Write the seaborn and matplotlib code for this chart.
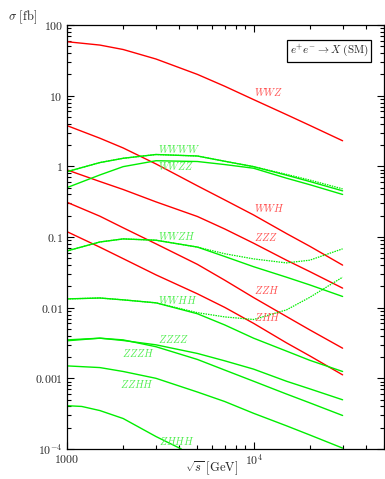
import matplotlib
matplotlib.use("Agg")
import matplotlib.pyplot as plt
import matplotlib.ticker as mticker
import seaborn as sns

# sqrt(s) in GeV, common grid for most curves
energy = [1000, 1500, 2000, 3000, 5000, 7000, 10000, 15000, 20000, 30000]

# red: triple boson production
WWZ = [58, 52, 45, 33, 20, 13.6, 8.8, 5.4, 3.8, 2.3]
WWH = [3.77, 2.5, 1.82, 1.08, 0.53, 0.335, 0.205, 0.112, 0.074, 0.040]
ZZZ = [0.89, 0.61, 0.47, 0.314, 0.195, 0.130, 0.0817, 0.047, 0.0324, 0.0189]
ZZH = [0.31, 0.197, 0.135, 0.080, 0.041, 0.0245, 0.0139, 0.0075, 0.00485, 0.00267]
ZHH = [0.119, 0.0718, 0.0494, 0.0291, 0.0157, 0.0101, 0.0060, 0.00318, 0.00208, 0.00112]

# green: four boson production (solid) and dotted variants
WWWW = [0.84, 1.13, 1.30, 1.47, 1.40, 1.18, 0.99, 0.75, 0.61, 0.45]
WWWW_dot = [0.84, 1.13, 1.30, 1.47, 1.40, 1.18, 0.99, 0.77, 0.64, 0.48]
WWZZ = [0.50, 0.755, 0.99, 1.20, 1.17, 1.06, 0.94, 0.68, 0.55, 0.40]
WWZH = [0.0635, 0.085, 0.094, 0.090, 0.072, 0.053, 0.038, 0.027, 0.021, 0.0144]
WWZH_dot = [0.0635, 0.085, 0.094, 0.090, 0.072, 0.058, 0.049, 0.043, 0.047, 0.068]
WWHH = [0.0133, 0.0137, 0.0129, 0.0117, 0.0082, 0.0057, 0.0037, 0.00243, 0.0018, 0.00125]
WWHH_dot = [0.0133, 0.0137, 0.0129, 0.0117, 0.0085, 0.0074, 0.0068, 0.0093, 0.0140, 0.027]
ZZZZ = [0.0035, 0.0037, 0.00343, 0.00298, 0.00225, 0.00177, 0.00135, 0.00091, 0.00071, 0.000497]
ZZZH = [0.0034, 0.0037, 0.0035, 0.0028, 0.00185, 0.00131, 0.00091, 0.0006, 0.00045, 0.000298]
ZZHH = [0.0015, 0.00142, 0.00125, 0.00100, 0.00064, 0.00047, 0.00032, 0.000213, 0.000158, 0.000103]

energy_zhhh = [1000, 1200, 1500, 2000, 3000, 4100]
ZHHH = [0.00041, 0.00040, 0.00035, 0.00027, 0.00015, 0.0001]

# curve labels: text, x, y
red_labels = [("WWZ", 10100, 11.1), ("WWH", 10100, 0.258), ("ZZZ", 10100, 0.100),
              ("ZZH", 10100, 0.0176), ("ZHH", 10100, 0.0073)]
green_labels = [("WWWW", 3070, 1.76), ("WWZZ", 3070, 1.01), ("WWZH", 3070, 0.102),
                ("WWHH", 3070, 0.0129), ("ZZZZ", 3070, 0.00362), ("ZZZH", 1968, 0.00226),
                ("ZZHH", 1920, 0.000836), ("ZHHH", 3100, 0.000131)]

yticks = [1e-4, 1e-3, 1e-2, 1e-1, 1, 10, 100]
ytick_labels = [r"$10^{-4}$", r"$\mathrm{0.001}$", r"$\mathrm{0.01}$", r"$\mathrm{0.1}$",
                r"$\mathrm{1}$", r"$\mathrm{10}$", r"$\mathrm{100}$"]
xticks = [1000, 10000]
xtick_labels = [r"$\mathrm{1000}$", r"$10^{4}$"]

sns.set_style("ticks", {"xtick.direction": "in", "ytick.direction": "in"})
plt.rcParams["mathtext.fontset"] = "cm"
plt.rcParams["font.family"] = ["DejaVu Serif"]

RED = "#ff0000"
GREEN = "#00ee00"

fig = plt.figure(figsize=(3.85, 4.79), dpi=100)
ax = fig.add_axes([67 / 385, 1 - 449 / 479, 317 / 385, 424 / 479])

for ys in [WWZ, WWH, ZZZ, ZZH, ZHH]:
    sns.lineplot(x=energy, y=ys, ax=ax, color=RED, lw=1.0, estimator=None, sort=False)
for ys in [WWWW, WWZZ, WWZH, WWHH, ZZZZ, ZZZH, ZZHH]:
    sns.lineplot(x=energy, y=ys, ax=ax, color=GREEN, lw=1.0, estimator=None, sort=False)
for ys in [WWWW_dot, WWZH_dot, WWHH_dot]:
    sns.lineplot(x=energy, y=ys, ax=ax, color=GREEN, lw=0.9, ls=(0, (1.2, 0.8)),
                 estimator=None, sort=False)
sns.lineplot(x=energy_zhhh, y=ZHHH, ax=ax, color=GREEN, lw=1.0, estimator=None, sort=False)

ax.set_xscale("log")
ax.set_yscale("log")
ax.set_xlim(1000, 50000)
ax.set_ylim(1e-4, 100)

ax.yaxis.set_major_locator(mticker.FixedLocator(yticks))
ax.yaxis.set_major_formatter(mticker.FixedFormatter(ytick_labels))
ax.xaxis.set_major_locator(mticker.FixedLocator(xticks))
ax.xaxis.set_major_formatter(mticker.FixedFormatter(xtick_labels))
ax.xaxis.set_minor_locator(mticker.LogLocator(base=10, subs=range(2, 10)))
ax.yaxis.set_minor_locator(mticker.LogLocator(base=10, subs=range(2, 10)))
ax.xaxis.set_minor_formatter(mticker.NullFormatter())
ax.yaxis.set_minor_formatter(mticker.NullFormatter())
ax.tick_params(which="both", top=True, right=True, direction="in", width=0.8,
               color="black", labelsize=8.5)
ax.tick_params(axis="y", pad=3)
ax.tick_params(axis="x", pad=3)
ax.tick_params(which="major", length=5)
ax.tick_params(which="minor", length=3)
for sp in ax.spines.values():
    sp.set_linewidth(0.9)
    sp.set_color("black")

for txt, x, y in red_labels:
    ax.text(x, y, "$" + txt + "$", color="#ff5050", fontsize=7.5, va="center", ha="left")
for txt, x, y in green_labels:
    ax.text(x, y, "$" + txt + "$", color="#50ee50", fontsize=7.5, va="center", ha="left")

ax.text(0.95, 0.939, r"$e^{+}e^{-}\rightarrow X\ (\mathrm{SM})$", transform=ax.transAxes,
        ha="right", va="center", fontsize=8,
        bbox=dict(boxstyle="square,pad=0.25", fc="white", ec="black", lw=0.9))

fig.text(8 / 385, 1 - 17 / 479, r"$\sigma\ [\mathrm{fb}]$", fontsize=9, ha="left", va="center")
fig.text(212 / 385, 1 - 468 / 479, r"$\sqrt{s}\ [\mathrm{GeV}]$", fontsize=9,
         ha="center", va="center")

fig.savefig("out.png", dpi=100)
